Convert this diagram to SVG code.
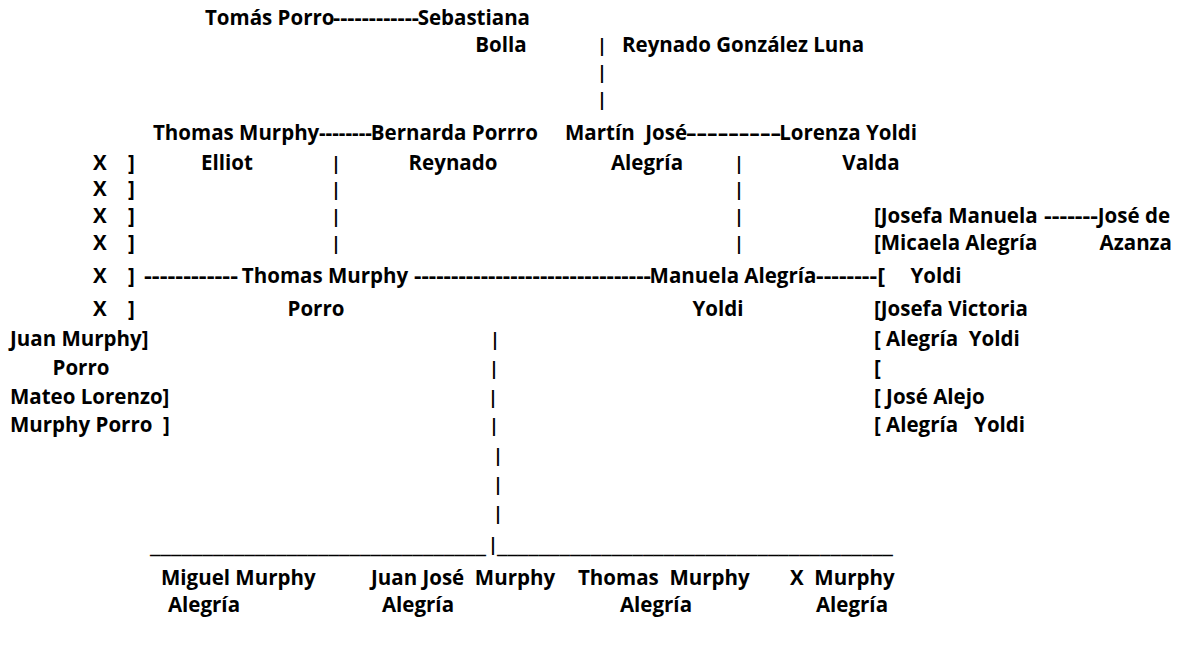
<svg xmlns="http://www.w3.org/2000/svg" width="1188" height="648" viewBox="0 0 1188 648" xml:space="preserve">
<style>
text{font-family:"Open Sans","Liberation Sans",sans-serif;font-weight:700;font-size:20.5px;fill:#000;white-space:pre}
text.p{font-size:18px}
text.m{text-anchor:middle}
text.e{text-anchor:end}
</style>
<rect width="1188" height="648" fill="#fff"/>
<g id="connectors">
<text x="333" y="25" textLength="86" lengthAdjust="spacingAndGlyphs">------------</text>
<text class="p" x="597" y="52">|</text>
<text class="p" x="597" y="79">|</text>
<text class="p" x="597" y="106">|</text>
<text x="319" y="140" textLength="53" lengthAdjust="spacingAndGlyphs">--------</text>
<text x="686" y="140" textLength="95" lengthAdjust="spacingAndGlyphs">---------</text>
<text class="p" x="331" y="170">|</text><text class="p" x="734" y="170">|</text>
<text class="p" x="331" y="196">|</text><text class="p" x="734" y="196">|</text>
<text class="p" x="331" y="223">|</text><text class="p" x="734" y="223">|</text>
<text class="p" x="331" y="250">|</text><text class="p" x="734" y="250">|</text>
<text x="1044" y="223" textLength="54" lengthAdjust="spacingAndGlyphs">-------</text>
<text x="128" y="170">]</text><text x="128" y="196">]</text><text x="128" y="223">]</text><text x="128" y="250">]</text><text x="128" y="283">]</text><text x="128" y="316">]</text>
<text x="144" y="283" textLength="94" lengthAdjust="spacingAndGlyphs">------------</text>
<text x="414" y="283" textLength="237" lengthAdjust="spacingAndGlyphs">--------------------------------</text>
<text x="816" y="283" textLength="69" lengthAdjust="spacingAndGlyphs">--------[</text>
<text class="p" x="490" y="346">|</text>
<text class="p" x="489" y="375">|</text>
<text class="p" x="488" y="404">|</text>
<text class="p" x="489" y="432">|</text>
<text class="p" x="493" y="462">|</text>
<text class="p" x="493" y="491">|</text>
<text class="p" x="493" y="520">|</text>
<text x="150" y="553" textLength="336" lengthAdjust="spacingAndGlyphs">________________________________</text>
<text class="p" x="488" y="551">|</text>
<text x="497" y="553" textLength="396" lengthAdjust="spacingAndGlyphs">______________________________________</text>
</g>
<g id="tomas-porro"><text x="205" y="25">Tomás Porro</text></g>
<g id="sebastiana-bolla"><text class="e" x="530" y="25">Sebastiana</text><text class="m" x="501" y="52">Bolla</text></g>
<g id="reynado-gonzalez"><text x="622" y="52">Reynado González Luna</text></g>
<g id="thomas-murphy-elliot"><text x="153" y="140">Thomas Murphy</text><text class="m" x="227" y="170">Elliot</text></g>
<g id="bernarda-porrro"><text class="e" x="538" y="140">Bernarda Porrro</text><text class="m" x="453" y="170">Reynado</text></g>
<g id="martin-jose"><text x="565" y="140">Martín  José</text><text class="m" x="647" y="170">Alegría</text></g>
<g id="lorenza-yoldi"><text class="e" x="917" y="140">Lorenza Yoldi</text><text class="m" x="871" y="170">Valda</text></g>
<g id="x-siblings"><text x="93" y="170">X</text><text x="93" y="196">X</text><text x="93" y="223">X</text><text x="93" y="250">X</text><text x="93" y="283">X</text><text x="93" y="316">X</text></g>
<g id="thomas-murphy-porro"><text class="m" x="325" y="283">Thomas Murphy</text><text class="m" x="316" y="316">Porro</text></g>
<g id="manuela-alegria"><text class="m" x="733" y="283">Manuela Alegría</text><text class="m" x="718" y="316">Yoldi</text></g>
<g id="josefa-manuela"><text x="874" y="223">[Josefa Manuela</text><text x="874" y="250">[Micaela Alegría</text><text class="m" x="936" y="283">Yoldi</text></g>
<g id="jose-azanza"><text class="e" x="1170" y="223">José de</text><text class="e" x="1172" y="250">Azanza</text></g>
<g id="josefa-victoria"><text x="874" y="316">[Josefa Victoria</text><text x="874" y="346">[ Alegría  Yoldi</text><text x="874" y="375">[</text></g>
<g id="jose-alejo"><text x="874" y="404">[ José Alejo</text><text x="874" y="432">[ Alegría   Yoldi</text></g>
<g id="juan-murphy"><text x="10" y="346">Juan Murphy]</text><text class="m" x="81" y="375">Porro</text></g>
<g id="mateo-lorenzo"><text x="10" y="404">Mateo Lorenzo]</text><text x="10" y="432">Murphy Porro  ]</text></g>
<g id="miguel-murphy"><text x="161" y="585">Miguel Murphy</text><text class="m" x="204" y="612">Alegría</text></g>
<g id="juan-jose-murphy"><text x="371" y="585">Juan José  Murphy</text><text class="m" x="418" y="612">Alegría</text></g>
<g id="thomas-murphy-alegria"><text x="578" y="585">Thomas  Murphy</text><text class="m" x="656" y="612">Alegría</text></g>
<g id="x-murphy"><text x="790" y="585">X  Murphy</text><text class="m" x="852" y="612">Alegría</text></g>
</svg>
